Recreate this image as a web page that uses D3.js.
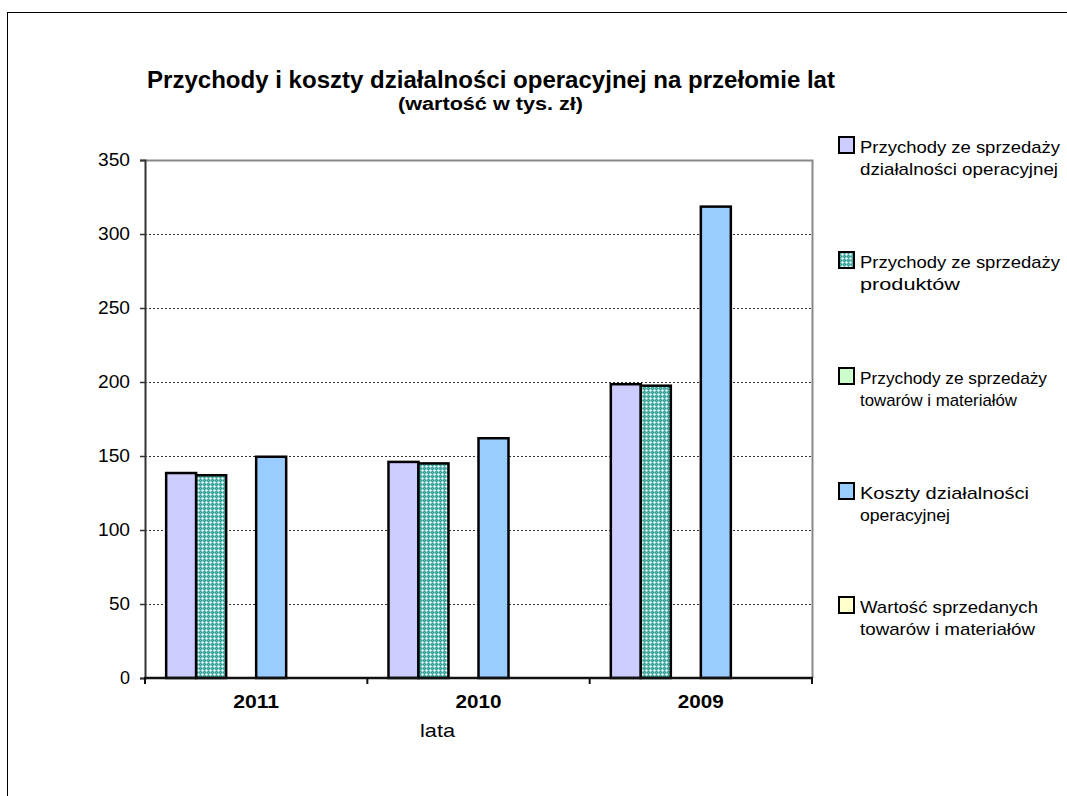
<!DOCTYPE html>
<html><head><meta charset="utf-8">
<script src="https://cdn.jsdelivr.net/npm/d3@7"></script>
<style>body{margin:0;background:#fff;} svg{display:block;font-family:"Liberation Sans",Arial,sans-serif;}</style>
</head><body>
<script>
const years = ["2011","2010","2009"];
const seriesNames = [
  ["Przychody ze sprzedaży","działalności operacyjnej"],
  ["Przychody ze sprzedaży","produktów"],
  ["Przychody ze sprzedaży","towarów i materiałów"],
  ["Koszty działalności","operacyjnej"],
  ["Wartość sprzedanych","towarów i materiałów"]
];
const przychodyOperacyjne = [138.5, 146, 198.5];
const przychodyProdukty   = [137, 145, 197.5];
const przychodyTowary     = [0, 0, 0];
const kosztyOperacyjne    = [149.5, 162, 318.5];
const wartoscTowarow      = [0, 0, 0];
const seriesValues = [przychodyOperacyjne, przychodyProdukty, przychodyTowary, kosztyOperacyjne, wartoscTowarow];
const yTicks = [0,50,100,150,200,250,300,350];

const W=1067,H=796;
const FF="Liberation Sans, Arial, sans-serif";
const svg=d3.select("body").append("svg").attr("width",W).attr("height",H);
const defs=svg.append("defs");
const pat=defs.append("pattern").attr("id","dots").attr("patternUnits","userSpaceOnUse").attr("width",4).attr("height",4);
pat.append("rect").attr("width",4).attr("height",4).attr("fill","#359c97");
[[0,0,"#5fb8b2"],[2,0,"#5fb8b2"],[0,2,"#5fb8b2"],[1,1,"#5fb8b2"],[3,3,"#5fb8b2"],[3,1,"#5fb8b2"],[1,3,"#5fb8b2"],
 [2,2,"#ffffff"],[1,2,"#bfe6e2"],[3,2,"#bfe6e2"],[2,1,"#bfe6e2"],[2,3,"#bfe6e2"]].forEach(p=>{
  pat.append("rect").attr("x",p[0]).attr("y",p[1]).attr("width",1).attr("height",1).attr("fill",p[2]);
});
const fills=["#ccccff","url(#dots)","#ccffcc","#99ccff","#ffffcc"];

svg.append("rect").attr("x",7.5).attr("y",12.5).attr("width",1070).attr("height",800).attr("fill","none").attr("stroke","#000").attr("stroke-width",1);

const L=145,R=812,T=160,B=678;
const x0=d3.scaleBand().domain(years).range([L,R]).padding(0);
const x1=d3.scaleBand().domain(d3.range(6)).range([0,x0.bandwidth()]).paddingInner(0).paddingOuter(0.705);
const y=d3.scaleLinear().domain([0,350]).range([B,T]);

// gridlines
svg.append("g").selectAll("line").data(yTicks.filter(t=>t>0&&t<350)).join("line")
  .attr("x1",L).attr("x2",R).attr("y1",d=>Math.round(y(d))+0.5).attr("y2",d=>Math.round(y(d))+0.5)
  .attr("stroke","#333").attr("stroke-dasharray","2,2").attr("stroke-width",1);
// plot border top/right
svg.append("path").attr("d",`M${L},${T+0.5}H${R+0.5}V${B}`).attr("fill","none").attr("stroke","#888").attr("stroke-width",2);

// bars
const g=svg.append("g");
years.forEach((yr,i)=>{
  seriesValues.forEach((vals,s)=>{
    const v=vals[i]; if(!v) return;
    g.append("rect").attr("x",x0(yr)+x1(s)).attr("y",y(v)).attr("width",x1.bandwidth()).attr("height",y(0)-y(v))
      .attr("fill",fills[s]).attr("stroke","#000").attr("stroke-width",2.5);
  });
});

// y axis
const ya=svg.append("g").attr("transform",`translate(${L},0)`).call(d3.axisLeft(y).tickValues(yTicks).tickSize(5).tickPadding(10));
ya.select(".domain").attr("stroke","#333").attr("stroke-width",2);
ya.selectAll(".tick line").attr("stroke","#333").attr("stroke-width",1.5);
ya.selectAll("text").attr("font-size",18).attr("fill","#000").attr("font-family",FF).attr("textLength",32).attr("lengthAdjust","spacingAndGlyphs")
  .each(function(d){ if(String(d).length===1){ d3.select(this).attr("textLength",null); } else if(String(d).length===2){ d3.select(this).attr("textLength",21);} });

// x axis
const xa=svg.append("g").attr("transform",`translate(0,${B})`).call(d3.axisBottom(x0).tickSize(0).tickPadding(17));
xa.select(".domain").remove();
svg.append("line").attr("x1",L-1).attr("x2",R+1).attr("y1",B).attr("y2",B).attr("stroke","#111").attr("stroke-width",2.5);
const bounds=years.map(yr=>x0(yr)).concat([R]);
svg.append("g").selectAll("line").data(bounds).join("line").attr("x1",d=>d).attr("x2",d=>d).attr("y1",B).attr("y2",B+6).attr("stroke","#111").attr("stroke-width",2);
xa.selectAll("text").attr("font-size",19).attr("font-weight","bold").attr("fill","#000").attr("font-family",FF)
  .attr("textLength",46).attr("lengthAdjust","spacingAndGlyphs");

svg.append("text").attr("x",420).attr("y",737).attr("font-size",19).attr("textLength",35).attr("lengthAdjust","spacingAndGlyphs").text("lata");

// titles
svg.append("text").attr("x",147).attr("y",88).attr("font-size",23).attr("font-weight","bold")
  .attr("textLength",688).attr("lengthAdjust","spacingAndGlyphs").text("Przychody i koszty działalności operacyjnej na przełomie lat");
svg.append("text").attr("x",398).attr("y",110).attr("font-size",18).attr("font-weight","bold")
  .attr("textLength",185).attr("lengthAdjust","spacingAndGlyphs").text("(wartość w tys. zł)");

// legend
const legY=[137,252,368,483,597];
const legLen=[[200,198],[200,100],[187,157],[169,90],[178,175]];
seriesNames.forEach((lines,s)=>{
  const gy=legY[s];
  svg.append("rect").attr("x",839).attr("y",gy).attr("width",15).attr("height",16).attr("fill",fills[s]).attr("stroke","#000").attr("stroke-width",2);
  lines.forEach((t,k)=>{
    svg.append("text").attr("x",860).attr("y",gy+16+k*22).attr("font-size",17)
      .attr("textLength",legLen[s][k]).attr("lengthAdjust","spacingAndGlyphs").text(t);
  });
});
</script>
</body></html>
